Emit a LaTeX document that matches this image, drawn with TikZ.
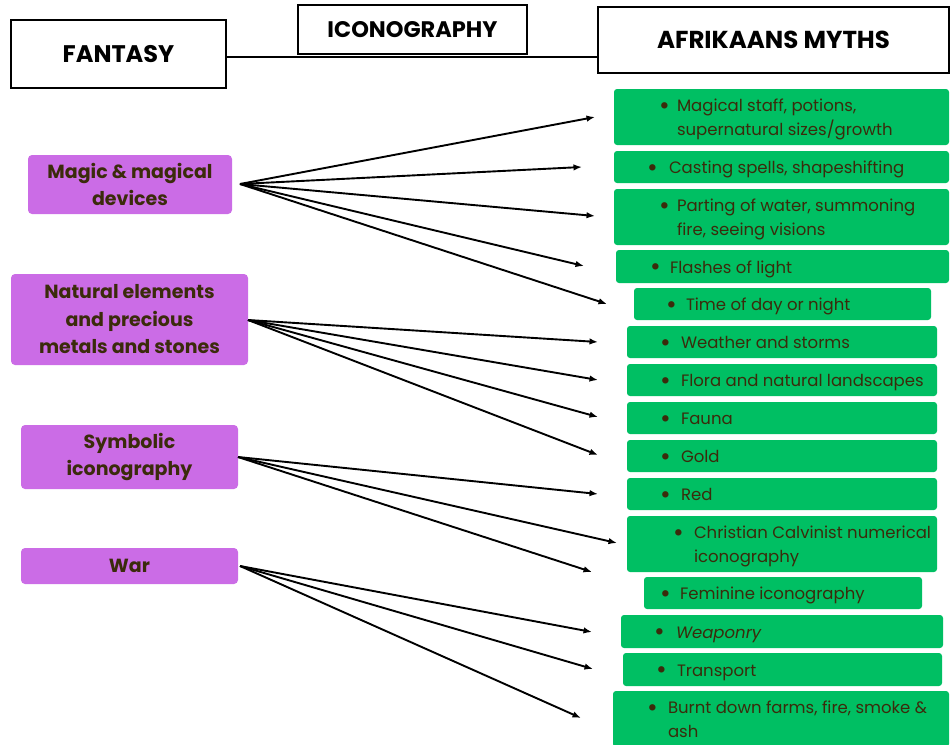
\documentclass[tikz,border=0pt]{standalone}
\usepackage{fontspec}
\setmainfont{Poppins}
\usetikzlibrary{arrows.meta}

\definecolor{leafgreen}{HTML}{00BF63}
\definecolor{orchid}{HTML}{CB6CE6}
\definecolor{inkbrown}{HTML}{3B2B0B}

\tikzset{
  headbox/.style={draw=black, line width=1.8pt, fill=white, inner sep=0pt,
    font=\bfseries\fontsize{24}{26}\selectfont},
  themebox/.style={fill=orchid, rounded corners=4pt, inner sep=0pt, text=inkbrown,
    align=center, font=\bfseries\fontsize{19}{27.5}\selectfont},
  itembox/.style={fill=leafgreen, rounded corners=3pt, inner sep=0pt, text=inkbrown,
    font=\fontsize{16.5}{24}\selectfont},
  link/.style={line width=1.9pt, -{Latex[length=8.5pt,width=6.5pt]}},
}

% box spanning (x1,y1)-(x2,y2) with a given style, name and text
\newcommand\spanbox[7]{%
  \node[#1, minimum width={(#5-#3)*1pt}, minimum height={(#6-#4)*1pt}]
    (#2) at ({(#3+#5)/2},{(#4+#6)/2}) {#7};}

% a round list bullet
\newcommand\dotmark{\raisebox{-2.2pt}{\fontsize{26}{24}\selectfont\textbullet}}

% green list entry: name, x1, y1, x2, y2, bullet x, text x, lines
\newcommand\listentry[8]{%
  \spanbox{itembox}{#1}{#2}{#3}{#4}{#5}{%
    \raisebox{-2pt}[\height][\depth]{\makebox[\dimexpr#4pt-#2pt\relax][l]{%
      \rlap{\hspace*{\dimexpr#6pt-#2pt\relax}\dotmark}%
      \hspace*{\dimexpr#7pt-#2pt\relax}%
      \begin{tabular}[t]{@{}l@{}}#8\end{tabular}}}}}

\begin{document}
\begin{tikzpicture}[x=1pt,y=-1pt]
\useasboundingbox (0,0) rectangle (950,744);

% column headings
\spanbox{headbox}{fantasy}{11}{20}{226}{88}{FANTASY}
\spanbox{headbox, font=\bfseries\fontsize{22.5}{24}\selectfont}{iconography}{298}{5}{527}{54}{ICONOGRAPHY}
\spanbox{headbox, font=\bfseries\fontsize{24.5}{26}\selectfont}{myths}{598}{7}{949}{73}{AFRIKAANS MYTHS}
\draw[line width=1.8pt] ([yshift=-2pt]fantasy.east |- iconography.south) -- ([yshift=-2pt]myths.west |- iconography.south);

% themes
\spanbox{themebox}{magic}{28}{155}{232}{214}{Magic \& magical\\devices}
\spanbox{themebox}{natural}{11}{274}{248}{365}{Natural elements\\and precious\\metals and stones}
\spanbox{themebox}{symbolic}{21}{425}{238}{489}{Symbolic\\iconography}
\spanbox{themebox}{war}{21}{548}{238}{584}{War}

% list entries
\listentry{staff}{614}{89}{949}{145}{659}{677}{Magical staff, potions,\\supernatural sizes/growth}
\listentry{spells}{614}{151}{949}{183}{647}{669}{Casting spells, shapeshifting}
\listentry{water}{614}{189}{949}{245}{659}{677}{Parting of water, summoning\\fire, seeing visions}
\listentry{light}{616}{250}{949}{283}{650}{670}{Flashes of light}
\listentry{daynight}{634}{288}{931}{320}{666}{686}{Time of day or night}
\listentry{weather}{627}{326}{937}{358}{660}{681}{Weather and storms}
\listentry{flora}{627}{364}{937}{396}{660}{681}{Flora and natural landscapes}
\listentry{fauna}{627}{402}{937}{434}{660}{681}{Fauna}
\listentry{gold}{627}{440}{937}{472}{660}{681}{Gold}
\listentry{red}{627}{478}{937}{510}{660}{681}{Red}
\listentry{calvinist}{627}{516}{937}{572}{673}{694}{Christian Calvinist numerical\\iconography}
\listentry{feminine}{644}{577}{922}{609}{660}{680}{Feminine iconography}
\listentry{weaponry}{621}{615}{943}{648}{654}{676}{\textit{Weaponry}}
\listentry{transport}{623}{653}{942}{686}{656}{677}{Transport}
\listentry{burnt}{613}{691}{949}{747}{647}{668}{Burnt down farms, fire, smoke \&\\ash}

% arrow origins and tips
\coordinate (magicout) at (240,184);
\coordinate (naturalout) at (248,320);
\coordinate (symbolicout) at (238,457);
\coordinate (warout) at (240,566);

\coordinate (m1) at (595,117);
\coordinate (m2) at (582,167);
\coordinate (m3) at (595,216);
\coordinate (m4) at (584,266);
\coordinate (m5) at (607,304);
\coordinate (n1) at (598,342);
\coordinate (n2) at (598,380);
\coordinate (n3) at (598,417);
\coordinate (n4) at (598,455);
\coordinate (s1) at (598,494);
\coordinate (s2) at (617,543);
\coordinate (s3) at (592,572);
\coordinate (w1) at (592,632);
\coordinate (w2) at (593,669);
\coordinate (w3) at (581,718);

\foreach \t in {m1,m2,m3,m4,m5} \draw[link] (magicout) -- (\t);
\foreach \t in {n1,n2,n3,n4} \draw[link] (naturalout) -- (\t);
\foreach \t in {s1,s2,s3} \draw[link] (symbolicout) -- (\t);
\foreach \t in {w1,w2,w3} \draw[link] (warout) -- (\t);
\end{tikzpicture}
\end{document}
